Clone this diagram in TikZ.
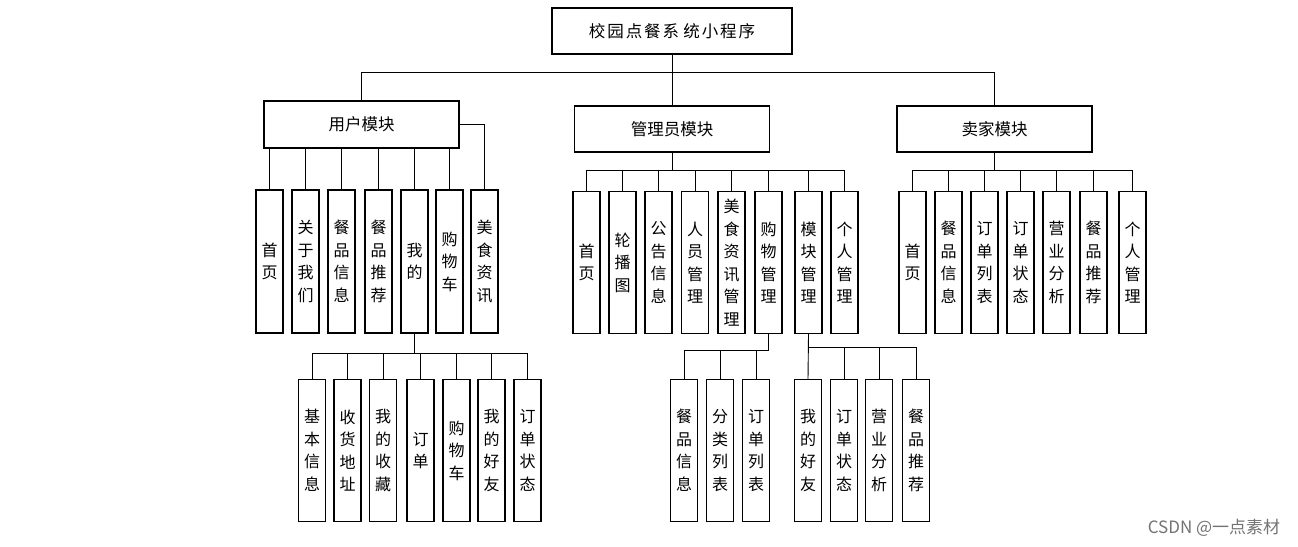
\documentclass[tikz,border=0pt]{standalone}
\usepackage{fontspec}
\newfontfamily\cjk{Noto Sans CJK SC}
\newcommand{\spc}[1]{#1\hspace{2pt}}
\begin{document}
\begin{tikzpicture}[x=1pt,y=-1pt,
  box/.style={draw=black,line width=1.4pt,fill=white,inner sep=0pt,font=\cjk\fontsize{16.5}{17}\selectfont},
  modbox/.style={box,minimum width=195pt,minimum height=46pt},
  vbox/.style={box,minimum width=27pt,minimum height=142pt,align=center,font=\cjk\fontsize{16}{22.5}\selectfont},
  conn/.style={draw=black,line width=0.9pt}]
\useasboundingbox[fill=white] (0,0) rectangle (1298,546);
% top
\node[box,minimum width=240pt,minimum height=46pt] (top) at (672,31) {校\hspace{2pt}园\hspace{2pt}点\hspace{2pt}餐\hspace{2pt}系\hspace{4pt}统\hspace{2pt}小\hspace{2pt}程\hspace{2pt}序};
\node[modbox,minimum height=47pt] (user) at (361.5,124.5) {用户模块};
\node[modbox] (admin) at (672,129) {管理员模块};
\node[modbox] (seller) at (994.5,129) {卖家模块};
\coordinate (b1) at (0,72);
\draw[conn] (top.south) -- (top.south|-b1);
\draw[conn] (user.north) |- (seller.north|-b1) -- (seller.north);
\draw[conn] (top.south|-b1) -- (admin.north);
% user children
\foreach \n/\x/\t in {u1/269.5/首\\页, u2/305.5/关\\于\\我\\们, u3/341.5/餐\\品\\信\\息, u4/378.5/餐\\品\\推\\荐, u5/414.5/我\\的, u6/449.5/购\\物\\车, u7/484.5/美\\食\\资\\讯}
  \node[vbox,minimum height=143pt] (\n) at (\x,261.5) {\t};
\foreach \n in {u1,u2,u3,u4,u5,u6}
  \draw[conn] (\n.north) -- (\n.north|-user.south);
\draw[conn] (u7.north) |- (user.east);
% user -> 我的 children
\foreach \n/\x/\t in {um1/312/基\\本\\信\\息, um2/347.5/收\\货\\地\\址, um3/383/我\\的\\收\\藏, um4/420.5/订\\单, um5/456.5/购\\物\\车, um6/491.5/我\\的\\好\\友, um7/527.5/订\\单\\状\\态}
  \node[vbox] (\n) at (\x,450.5) {\t};
\coordinate (b3) at (0,353);
\draw[conn] (u5.south) -- (u5.south|-b3);
\draw[conn] (um1.north) |- (um7.north|-b3) -- (um7.north);
\foreach \n in {um2,um3,um4,um5,um6}
  \draw[conn] (\n.north) -- (\n.north|-b3);
% admin children
\foreach \n/\x/\t in {a1/586.5/首\\页, a2/622.5/轮\\播\\图, a3/658.5/公\\告\\信\\息, a4/695/人\\员\\管\\理, a5/731.5/美\\食\\资\\讯\\管\\理, a6/768.5/购\\物\\管\\理, a7/808.5/模\\块\\管\\理, a8/844.5/个\\人\\管\\理}
  \node[vbox] (\n) at (\x,262.5) {\t};
\coordinate (b2) at (0,170);
\draw[conn] (admin.south) -- (admin.south|-b2);
\draw[conn] (a1.north) |- (a8.north|-b2) -- (a8.north);
\foreach \n in {a2,a3,a4,a5,a6,a7}
  \draw[conn] (\n.north) -- (\n.north|-b2);
% admin -> 购物管理
\foreach \n/\x/\t in {ab1/684/餐\\品\\信\\息, ab2/720/分\\类\\列\\表, ab3/756/订\\单\\列\\表}
  \node[vbox] (\n) at (\x,450.5) {\t};
\coordinate (b4) at (0,350);
\draw[conn] (a6.south) |- (ab1.north|-b4) -- (ab1.north);
\foreach \n in {ab2,ab3}
  \draw[conn] (\n.north) -- (\n.north|-b4);
% admin -> 模块管理
\foreach \n/\x/\t in {am1/808/我\\的\\好\\友, am2/844/订\\单\\状\\态, am3/879/营\\业\\分\\析, am4/916/餐\\品\\推\\荐}
  \node[vbox] (\n) at (\x,450.5) {\t};
\coordinate (b5) at (0,347);
\draw[conn] (a7.south) -- (am1.north);
\draw[conn] (am1.north|-b5) -| (am4.north);
\foreach \n in {am2,am3}
  \draw[conn] (\n.north) -- (\n.north|-b5);
% seller children
\foreach \n/\x/\t in {s1/912.5/首\\页, s2/948.5/餐\\品\\信\\息, s3/984.5/订\\单\\列\\表, s4/1020.5/订\\单\\状\\态, s5/1056.5/营\\业\\分\\析, s6/1093.5/餐\\品\\推\\荐, s7/1132.5/个\\人\\管\\理}
  \node[vbox] (\n) at (\x,262.5) {\t};
\draw[conn] (seller.south) -- (seller.south|-b2);
\draw[conn] (s1.north) |- (s7.north|-b2) -- (s7.north);
\foreach \n in {s2,s3,s4,s5,s6}
  \draw[conn] (\n.north) -- (\n.north|-b2);
% watermark
\node[font=\cjk\fontsize{17}{19}\selectfont,text=black!55,inner sep=0pt] (wm) at (1214,528) {CSDN @一点素材};
\end{tikzpicture}
\end{document}
